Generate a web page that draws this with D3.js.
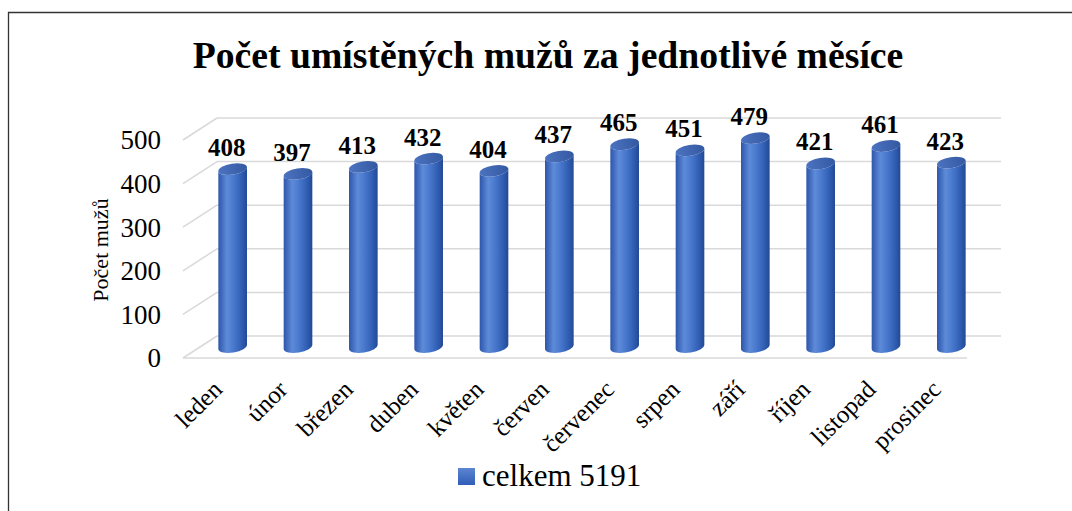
<!DOCTYPE html>
<meta charset="utf-8">
<script src="https://cdn.jsdelivr.net/npm/d3@7"></script>
<style>
  body { margin: 0; background: #fff; }
</style>
<body>
<div id="chart"></div>
<script>
// data
var months = ["leden", "únor", "březen", "duben", "květen", "červen",
              "červenec", "srpen", "září", "říjen", "listopad", "prosinec"];
var counts = [408, 397, 413, 432, 404, 437, 465, 451, 479, 421, 461, 423];
var yTicks = [0, 100, 200, 300, 400, 500];
var seriesName = "celkem 5191";
var titleText = "Počet umístěných mužů za jednotlivé měsíce";
var yTitle = "Počet mužů";

var width = 1072, height = 511;
var serif = "'Liberation Serif', 'DejaVu Serif', serif";

// front plane of the 3D box, and depth offset to the back wall
var frontLeft = 183, frontRight = 967, floorY = 358;
var depth = {dx: 34, dy: -22};

var svg = d3.select("#chart").append("svg")
    .attr("width", width)
    .attr("height", height)
    .attr("font-family", serif);

// chart border (left + top visible)
svg.append("path")
    .attr("d", "M8.5," + height + " V12.5 H" + width)
    .attr("fill", "none")
    .attr("stroke", "#333")
    .attr("stroke-width", 1.3);

var x = d3.scaleBand()
    .domain(months)
    .range([frontLeft, frontRight]);

var y = d3.scaleLinear()
    .domain([0, 500])
    .range([floorY, floorY - 218]);

// gradients for the cylinders
var defs = svg.append("defs");
var body = defs.append("linearGradient").attr("id", "cylBody");
[["0%", "#2d56aa"], ["30%", "#5e8bd9"], ["55%", "#4777cc"], ["85%", "#2d5aae"], ["100%", "#234892"]]
  .forEach(function(s) { body.append("stop").attr("offset", s[0]).attr("stop-color", s[1]); });
var cap = defs.append("linearGradient").attr("id", "cylCap");
[["0%", "#4c73c0"], ["100%", "#3459a2"]]
  .forEach(function(s) { cap.append("stop").attr("offset", s[0]).attr("stop-color", s[1]); });
var leg = defs.append("linearGradient").attr("id", "legGrad")
    .attr("x1", 0).attr("y1", 0).attr("x2", 0).attr("y2", 1);
[["0%", "#5d86d0"], ["100%", "#2f5db8"]]
  .forEach(function(s) { leg.append("stop").attr("offset", s[0]).attr("stop-color", s[1]); });

// gridlines on the back wall
var grid = svg.append("g").attr("stroke", "#d9d9d9").attr("stroke-width", 1.5).attr("fill", "none");
grid.selectAll("line.back")
  .data(yTicks)
  .enter().append("line")
    .attr("x1", frontLeft + depth.dx)
    .attr("x2", frontRight + depth.dx)
    .attr("y1", function(d) { return y(d) + depth.dy; })
    .attr("y2", function(d) { return y(d) + depth.dy; });
// side wall diagonals
grid.selectAll("line.side")
  .data(yTicks)
  .enter().append("line")
    .attr("x1", frontLeft)
    .attr("x2", frontLeft + depth.dx)
    .attr("y1", function(d) { return y(d); })
    .attr("y2", function(d) { return y(d) + depth.dy; });
// front floor edge
grid.append("line")
    .attr("x1", frontLeft).attr("x2", frontRight)
    .attr("y1", floorY).attr("y2", floorY);

// y tick labels
svg.append("g").selectAll("text")
  .data(yTicks)
  .enter().append("text")
    .attr("x", 161)
    .attr("y", function(d) { return y(d); })
    .attr("dy", "0.35em")
    .attr("text-anchor", "end")
    .attr("font-family", serif)
    .attr("font-size", 27)
    .text(function(d) { return d; });

// y axis title
svg.append("text")
    .attr("transform", "translate(108,250) rotate(-90)")
    .attr("text-anchor", "middle")
    .attr("font-family", serif)
    .attr("font-size", 22)
    .text(yTitle);

// cylinders at mid depth
var rx = 14.5, ry = 5.5, tilt = 9;
var t = tilt * Math.PI / 180;
function cx(d) { return x(d) + x.bandwidth() / 2 + depth.dx / 2; }
var midY = function(v) { return y(v) + depth.dy / 2; };

var bars = svg.append("g").selectAll("g")
  .data(months.map(function(m, i) { return {m: m, v: counts[i]}; }))
  .enter().append("g");

bars.append("path")
    .attr("fill", "url(#cylBody)")
    .attr("d", function(d) {
      var c = cx(d.m), yt = midY(d.v), yb = midY(0);
      var ox = rx * Math.cos(t), oy = rx * Math.sin(t);
      return "M" + (c - ox) + "," + (yt + oy) +
             "L" + (c - ox) + "," + (yb + oy) +
             "A" + rx + "," + ry + " " + (-tilt) + " 0 0 " + (c + ox) + "," + (yb - oy) +
             "L" + (c + ox) + "," + (yt - oy) +
             "A" + rx + "," + ry + " " + (-tilt) + " 0 1 " + (c - ox) + "," + (yt + oy) + "Z";
    });

bars.append("ellipse")
    .attr("fill", "url(#cylCap)")
    .attr("cx", function(d) { return cx(d.m); })
    .attr("cy", function(d) { return midY(d.v); })
    .attr("rx", rx)
    .attr("ry", ry)
    .attr("transform", function(d) { return "rotate(" + (-tilt) + "," + cx(d.m) + "," + midY(d.v) + ")"; });

// value labels
bars.append("text")
    .attr("x", function(d) { return cx(d.m) - 6; })
    .attr("y", function(d) { return y(d.v) + depth.dy - 2; })
    .attr("text-anchor", "middle")
    .attr("font-family", serif)
    .attr("font-size", 25)
    .attr("font-weight", "bold")
    .text(function(d) { return d.v; });

// category labels
svg.append("g").selectAll("text")
  .data(months)
  .enter().append("text")
    .attr("transform", function(d) { return "translate(" + (cx(d) - 9) + ",391) rotate(-45)"; })
    .attr("text-anchor", "end")
    .attr("font-family", serif)
    .attr("font-size", 25)
    .text(function(d) { return d; });

// title
svg.append("text")
    .attr("x", 548)
    .attr("y", 68)
    .attr("text-anchor", "middle")
    .attr("font-family", serif)
    .attr("font-size", 37.7)
    .attr("font-weight", "bold")
    .text(titleText);

// legend
svg.append("rect")
    .attr("x", 458).attr("y", 468)
    .attr("width", 17).attr("height", 17)
    .attr("fill", "url(#legGrad)");
svg.append("text")
    .attr("x", 482).attr("y", 486)
    .attr("font-family", serif)
    .attr("font-size", 31)
    .text(seriesName);
</script>
</body>
